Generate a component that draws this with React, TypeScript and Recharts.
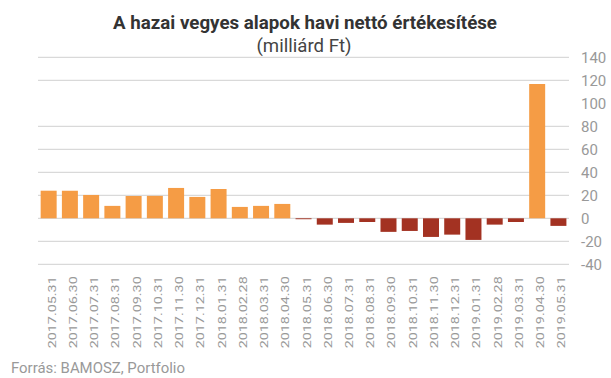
import React from 'react';
import { BarChart, Bar, XAxis, YAxis, CartesianGrid, Cell } from 'recharts';

const categories = [
  '2017.05.31', '2017.06.30', '2017.07.31', '2017.08.31', '2017.09.30', '2017.10.31',
  '2017.11.30', '2017.12.31', '2018.01.31', '2018.02.28', '2018.03.31', '2018.04.30',
  '2018.05.31', '2018.06.30', '2018.07.31', '2018.08.31', '2018.09.30', '2018.10.31',
  '2018.11.30', '2018.12.31', '2019.01.31', '2019.02.28', '2019.03.31', '2019.04.30',
  '2019.05.31',
];

const values = [
  24, 24, 20.3, 10.8, 19.5, 19.5,
  26.4, 18.6, 25.5, 9.9, 10.8, 12.5,
  -0.8, -5.5, -4, -3.2, -11.8, -11,
  -16.2, -14.2, -18.8, -5.5, -3.2, 116.8,
  -6.6,
];

const yTicks = [-40, -20, 0, 20, 40, 60, 80, 100, 120, 140];

const POS = '#F59C45';
const NEG = '#A33222';

const data = categories.map((c, i) => ({ name: c, value: values[i] }));

const XTick = (props: any) => {
  const { x, y, payload } = props;
  return (
    <g transform={`translate(${x + 7},${y}) rotate(-90)`}>
      <text
        x={0}
        y={0}
        textAnchor="end"
        fill="#999"
        fontSize={10.5}
        fontFamily="Roboto, sans-serif"
        textLength={72}
        lengthAdjust="spacingAndGlyphs"
      >
        {payload.value}
      </text>
    </g>
  );
};

export default function App() {
  return (
    <div style={{ position: 'absolute', left: 0, top: 0, width: 611, height: 378, background: '#fff' }}>
      <BarChart
        width={611}
        height={378}
        data={data}
        margin={{ top: 57.3, right: 0, bottom: 0, left: 38 }}
        barCategoryGap="12.5%"
      >
        <CartesianGrid vertical={false} stroke="#d0d0d0" strokeWidth={1} />
        <XAxis
          dataKey="name"
          axisLine={false}
          tickLine={false}
          tickSize={0}
          tickMargin={12}
          height={113.7}
          interval={0}
          tick={<XTick />}
        />
        <YAxis
          orientation="right"
          domain={[-40, 140]}
          ticks={yTicks}
          axisLine={false}
          tickLine={false}
          tickSize={0}
          tickMargin={12}
          width={42}
          tick={{ fill: '#999', fontSize: 15, fontFamily: 'Roboto, sans-serif', textAnchor: 'start' }}
        />
        <Bar dataKey="value" isAnimationActive={false}>
          {data.map((d, i) => (
            <Cell key={i} fill={d.value >= 0 ? POS : NEG} />
          ))}
        </Bar>
      </BarChart>
      <svg width={611} height={378} style={{ position: 'absolute', left: 0, top: 0, pointerEvents: 'none' }}>
        <text x={305} y={29.3} textAnchor="middle" fill="#333" fontSize={19} fontWeight="bold" fontFamily="Roboto, sans-serif" textLength={384} lengthAdjust="spacingAndGlyphs">
          A hazai vegyes alapok havi nettó értékesítése
        </text>
        <text x={304} y={52} textAnchor="middle" fill="#444" fontSize={17.5} fontFamily="Roboto, sans-serif" textLength={95} lengthAdjust="spacingAndGlyphs">
          (milliárd Ft)
        </text>
        <text x={11} y={372.7} fill="#999" fontSize={15.5} fontFamily="Roboto, sans-serif" textLength={174} lengthAdjust="spacingAndGlyphs">
          Forrás: BAMOSZ, Portfolio
        </text>
      </svg>
    </div>
  );
}
